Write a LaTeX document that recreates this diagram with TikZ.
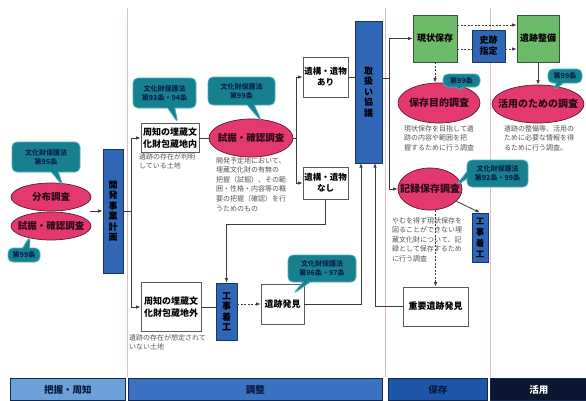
\documentclass[tikz,border=0pt]{standalone}
\usepackage{fontspec}
\setmainfont{Noto Sans CJK JP}
\usetikzlibrary{shapes.geometric,shapes.callouts,arrows.meta}
\definecolor{calfill}{HTML}{17808F}
\definecolor{caledge}{HTML}{4FB0BD}
\definecolor{caltext}{HTML}{0C2450}
\definecolor{pinkfill}{HTML}{E4396F}
\definecolor{pinkedge}{HTML}{5B1A33}
\definecolor{pinktext}{HTML}{2B0A18}
\definecolor{bluefill}{HTML}{2F66B6}
\definecolor{blueedge}{HTML}{1A3560}
\definecolor{greenfill}{HTML}{6DBA6A}
\definecolor{greenedge}{HTML}{2F5A2F}
\definecolor{boxedge}{HTML}{5A5A5A}
\definecolor{linec}{HTML}{3C3C3C}
\definecolor{descgray}{HTML}{555555}
\definecolor{divc}{HTML}{E3B9C2}
\definecolor{barA}{HTML}{6D9FD9}
\definecolor{barB}{HTML}{3B71C1}
\definecolor{barC}{HTML}{1F55A6}
\definecolor{barD}{HTML}{0B1731}
\definecolor{baredge}{HTML}{14284D}
\definecolor{bartext}{HTML}{0A1A40}
\tikzset{
 callbox/.style={rectangle callout, rounded corners=5pt, fill=calfill, draw=caledge, line width=0.8pt, text=caltext, font=\bfseries\fontsize{7}{8.8}\selectfont, align=center, inner sep=1pt, callout pointer width=7pt},
 survey/.style={ellipse, fill=pinkfill, draw=pinkedge, line width=0.7pt, inner sep=0pt},
 stext/.style={font=\bfseries\fontsize{10}{12}\selectfont, text=pinktext, inner sep=0pt},
 wbox/.style={rectangle, draw=boxedge, fill=white, line width=0.8pt, font=\bfseries\fontsize{9}{11.5}\selectfont, align=center, inner sep=1pt},
 bbox/.style={rectangle, draw=blueedge, fill=bluefill, line width=0.8pt, font=\bfseries\fontsize{9}{10.5}\selectfont, align=center, inner sep=0pt},
 gbox/.style={rectangle, draw=greenedge, fill=greenfill, line width=0.8pt, font=\bfseries\fontsize{9}{11}\selectfont, align=center, inner sep=1pt},
 desc/.style={font=\fontsize{7}{9.6}\selectfont, text=descgray, align=left, inner sep=0pt, anchor=north west},
 conn/.style={draw=linec, line width=0.8pt},
 arr/.style={conn, -{Latex[length=4.5pt,width=3.5pt]}},
 dasharr/.style={arr, dash pattern=on 2pt off 1.5pt},
 dashc/.style={conn, dash pattern=on 2pt off 1.5pt},
 divider/.style={draw=divc, line width=0.8pt},
 barseg/.style={rectangle, draw=baredge, line width=0.8pt, anchor=north west, minimum height=22pt, font=\bfseries\fontsize{9.5}{11}\selectfont, text=bartext, inner sep=0pt},
}
\begin{document}
\begin{tikzpicture}[x=1pt,y=-1pt]
\useasboundingbox (0,0) rectangle (586,400);
\fill[white] (0,0) rectangle (586,400);
% dividers
\draw[divider] (127,8) -- (127,377);
\draw[divider] (385,8) -- (385,377);
\draw[divider] (490,8) -- (490,377);

% ---- left: survey
\node[survey, minimum width=80pt, minimum height=28pt, label={[stext, font=\bfseries\fontsize{9.5}{11}\selectfont]center:分布調査}] (e1) at (51,197) {};
\node[survey, minimum width=80pt, minimum height=28pt, label={[stext, font=\bfseries\fontsize{9.5}{11}\selectfont]center:試掘・確認調査}] (e2) at (51,226) {};
\node[callbox, minimum width=68pt, minimum height=30pt, callout absolute pointer={(63,186)}] (c95) at (46,157) {文化財保護法\\第95条};
\node[callbox, minimum width=32pt, minimum height=14pt, callout absolute pointer={(30,236)}] (c99a) at (24,255) {第99条};
\coordinate (j) at (90,211);
\node[bbox, minimum width=20pt, minimum height=124pt] (plan) at (113,211) {開\\発\\事\\業\\計\\画};
\draw[arr] (j) -- (plan.west);

% ---- adjustment
\node[wbox, minimum width=58pt, minimum height=29pt] (in) at (170,138) {周知の埋蔵文\\化財包蔵地内};
\node[wbox, minimum width=60pt, minimum height=49pt] (out) at (171,307) {周知の埋蔵文\\化財包蔵地外};
\coordinate (bx) at (131,211);
\draw[conn] (plan.east) -- (bx);
\draw[arr] (bx) |- (in.west);
\draw[arr] (bx) |- (out.west);
\node[desc] (tin) at (139,153) {遺跡の存在が判明\\している土地};
\node[desc] (tout) at (129,334) {遺跡の存在が想定されて\\いない土地};
\node[callbox, minimum width=63pt, minimum height=30pt, callout absolute pointer={(178,123)}] (c9394) at (164.5,93) {文化財保護法\\第93条・94条};

\node[survey, minimum width=84pt, minimum height=38pt, label={[stext, font=\bfseries\fontsize{9.5}{11}\selectfont]center:試掘・確認調査}] (e3) at (251,138) {};
\node[callbox, minimum width=67pt, minimum height=28pt, callout absolute pointer={(262,122)}] (c99b) at (241.5,91) {文化財保護法\\第99条};
\draw[conn] (in.east) -- (e3.west);
\node[desc] (te3) at (216,157) {開発予定地において、\\埋蔵文化財の有無の\\把握（試掘）、その範\\囲・性格・内容等の概\\要の把握（確認）を行\\うためのもの};

\node[wbox, minimum width=45pt, minimum height=40pt, font=\bfseries\fontsize{8.5}{11}\selectfont] (ari) at (325.5,77) {遺構・遺物\\あり};
\node[wbox, minimum width=45pt, minimum height=32pt, font=\bfseries\fontsize{8.5}{11}\selectfont] (nashi) at (325.5,183) {遺構・遺物\\なし};
\coordinate (b2) at (296,138);
\draw[conn] (e3.east) -- (b2);
\draw[arr] (b2) |- (ari.west);
\draw[arr] (b2) |- (nashi.west);

\node[bbox, minimum width=27pt, minimum height=142pt] (tori) at (368.5,92) {取\\扱\\い\\協\\議};
\draw[conn] (ari.east) -- (ari.east -| tori.west);

\node[bbox, minimum width=21pt, minimum height=57pt] (kouji1) at (226.5,311.5) {工\\事\\着\\工};
\draw[arr] (nashi.south) -- ++(0,25) -| (kouji1.north);
\draw[conn] (out.east) -- (out.east -| kouji1.west);

\node[wbox, minimum width=43pt, minimum height=40pt] (iseki) at (282.5,304) {遺跡発見};
\draw[dasharr] (kouji1.east |- iseki.west) -- (iseki.west);
\node[callbox, minimum width=68pt, minimum height=27pt, callout absolute pointer={(293,294)}] (c9697) at (322,268.5) {文化財保護法\\第96条・97条};

\node[wbox, minimum width=65pt, minimum height=39pt] (juyo) at (435.5,306.5) {重要遺跡発見};
\coordinate (ta) at (361,163);
\coordinate (tb) at (375,163);
\draw[arr] (iseki.east) -| (ta);
\draw[arr] (juyo.west) -| (tb);

% ---- preservation
\node[gbox, minimum width=44pt, minimum height=47pt] (genjo) at (435,38.5) {現状保存};
\node[bbox, minimum width=33pt, minimum height=32pt, inner sep=1pt, font=\bfseries\fontsize{9}{11}\selectfont] (shiseki) at (488.5,46) {史跡\\指定};
\node[gbox, minimum width=42pt, minimum height=47pt] (seibi) at (538,38.5) {遺跡整備};

\coordinate (b3) at (389,78);
\draw[conn] (tori.east |- b3) -- (b3);
\node[survey, minimum width=82pt, minimum height=40pt, label={[stext]center:保存目的調査}] (hozon) at (439,103) {};
\node[survey, minimum width=64pt, minimum height=42pt, label={[stext]center:記録保存調査}] (kiroku) at (430,189) {};
\draw[arr] (b3) |- (genjo.west);
\draw[arr] (b3) |- (kiroku.west);

\draw[dasharr] (genjo.east |- 0,25) -- (seibi.west |- 0,25);
\draw[dashc] (genjo.east |- 0,49) -- (shiseki.west |- 0,49);
\draw[dasharr] (shiseki.east |- 0,49) -- (seibi.west |- 0,49);
\draw[dasharr] (genjo.south) -- (genjo.south |- hozon.north);

\node[callbox, minimum width=37pt, minimum height=13pt, callout absolute pointer={(458,92)}] (c99c) at (461.5,80.5) {第99条};
\node[desc] (thozon) at (404,125) {現状保存を目指して遺\\跡の内容や範囲を把\\握するために行う調査};

\node[bbox, minimum width=16pt, minimum height=49pt, font=\bfseries\fontsize{8.5}{11}\selectfont] (kouji2) at (480,237.5) {工\\事\\着\\工};
\draw[arr] (kiroku.-25) -- (kouji2.north);
\node[callbox, minimum width=61pt, minimum height=27pt, callout absolute pointer={(456,186)}] (c9299) at (497.5,173.5) {文化財保護法\\第92条・99条};
\node[desc] (tkiroku) at (392,217) {やむを得ず現状保存を\\図ることができない埋\\蔵文化財について、記\\録として保存するため\\に行う調査};
\draw[dasharr] (juyo.north |- kiroku.south) -- (juyo.north);

% ---- utilisation
\node[survey, minimum width=92pt, minimum height=38pt, label={[stext]center:活用のための調査}] (katsu) at (538,104) {};
\draw[arr] (seibi.south) -- (katsu.north);
\node[callbox, minimum width=34pt, minimum height=14pt, callout absolute pointer={(553,91)}] (c99d) at (565,76) {第99条};
\node[desc] (tkatsu) at (504,125) {遺跡の整備等、活用の\\ために必要な情報を得\\るために行う調査。};

% ---- bottom bar
\node[barseg, fill=barA, minimum width=115pt] (barA) at (10,378) {把握・周知};
\node[barseg, fill=barB, minimum width=254pt] (barB) at (128,378) {調整};
\node[barseg, fill=barC, minimum width=99pt] (barC) at (388,378) {保存};
\node[barseg, fill=barD, minimum width=97pt, text=white] (barD) at (490,378) {活用};
\end{tikzpicture}
\end{document}
